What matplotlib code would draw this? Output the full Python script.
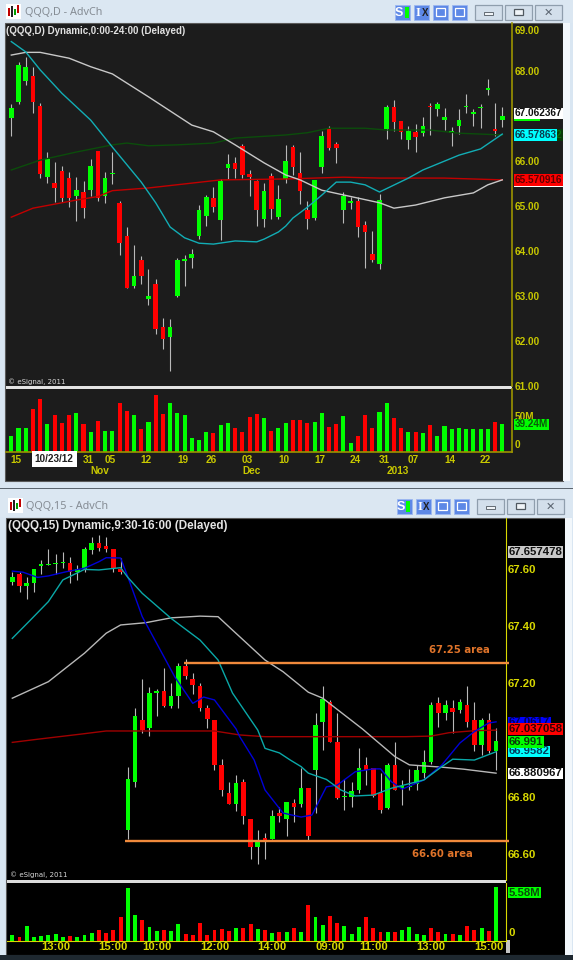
import numpy as np
import matplotlib
matplotlib.use('Agg')
import matplotlib.pyplot as plt
from matplotlib.patches import Rectangle
from matplotlib.transforms import blended_transform_factory

plt.rcParams['font.family'] = ['Liberation Sans', 'DejaVu Sans']

W, H = 573, 960
UP = '#00ff00'
DOWN = '#ff0000'

# daily QQQ candles
d_open = [66.96, 67.32, 67.78, 67.89, 67.23, 65.65, 65.51, 65.78, 65.62, 65.21, 65.32, 65.35, 66.22, 65.21, 65.72,
          65.07, 64.34, 63.22, 63.80, 62.93, 63.27, 62.30, 62.09, 62.99, 63.77, 63.85, 64.34, 64.78, 65.18, 64.69,
          65.85, 65.95, 66.34, 65.71, 65.55, 64.72, 65.67, 64.76, 65.60, 66.31, 65.73, 64.92, 64.74, 65.87, 66.73,
          66.39, 64.90, 65.07, 65.10, 64.58, 63.93, 63.70, 66.71, 67.21, 66.89, 66.47, 66.65, 66.62, 67.23, 67.16,
          66.91, 66.63, 66.77, 67.20, 67.04, 67.17, 67.58, 66.71, 66.91]
d_high = [67.27, 68.21, 68.32, 68.10, 67.30, 66.21, 65.98, 65.89, 65.76, 65.65, 65.55, 66.05, 66.22, 65.76, 66.20,
          65.12, 64.53, 64.13, 63.89, 63.60, 63.37, 62.50, 62.49, 63.84, 63.91, 64.03, 65.02, 65.24, 65.43, 65.59,
          66.16, 66.10, 66.38, 65.80, 65.58, 65.51, 65.73, 65.47, 66.36, 66.36, 66.19, 65.11, 65.57, 66.67, 66.78,
          66.43, 65.30, 65.19, 65.19, 64.66, 64.44, 65.26, 67.25, 67.36, 66.89, 66.78, 66.82, 66.97, 67.30, 67.31,
          67.17, 66.76, 67.16, 67.49, 67.16, 67.26, 67.82, 67.30, 67.21]
d_low = [66.56, 67.27, 67.69, 67.07, 65.63, 65.52, 65.09, 65.09, 64.98, 64.67, 64.74, 65.21, 65.11, 65.07, 65.49,
         63.91, 63.18, 63.18, 63.27, 62.79, 62.15, 61.81, 61.32, 62.97, 63.22, 63.61, 64.26, 64.55, 64.86, 64.24,
         65.60, 65.63, 65.63, 65.22, 64.56, 64.54, 64.72, 64.72, 65.52, 65.69, 65.04, 64.48, 64.69, 65.73, 66.25,
         65.95, 64.63, 64.93, 64.30, 63.61, 63.76, 63.60, 66.49, 66.67, 66.49, 66.27, 66.19, 66.56, 66.58, 67.01,
         66.69, 66.34, 66.60, 67.08, 66.79, 66.74, 67.47, 66.56, 66.75]
d_close = [67.19, 68.14, 68.09, 67.32, 65.71, 66.05, 65.41, 65.18, 65.18, 65.35, 64.96, 65.89, 65.18, 65.62, 65.74,
           64.18, 63.18, 63.44, 63.44, 62.99, 62.25, 62.04, 62.30, 63.80, 63.81, 63.93, 64.92, 65.20, 64.98, 65.55,
           65.93, 65.82, 65.69, 65.64, 64.92, 65.34, 64.93, 65.15, 65.99, 65.86, 65.33, 64.70, 65.57, 66.56, 66.30,
           66.30, 65.23, 65.10, 64.52, 64.43, 63.80, 65.13, 67.21, 66.88, 66.65, 66.67, 66.53, 66.79, 67.20, 67.27,
           66.97, 66.67, 66.91, 67.23, 67.09, 67.20, 67.62, 66.67, 67.01]
d_vol = [22.4, 33.4, 33.4, 61.0, 74.9, 39.1, 52.0, 40.5, 52.9, 54.9, 39.1, 27.7, 43.9, 30.0, 30.0, 70.1, 58.2, 52.0,
         32.4, 42.9, 81.6, 54.4, 70.1, 55.8, 52.0, 19.6, 16.7, 27.7, 26.2, 37.7, 41.5, 33.9, 28.6, 49.1, 54.4, 48.2,
         29.6, 33.9, 40.5, 45.3, 45.3, 40.5, 42.9, 55.8, 35.3, 40.1, 50.6, 11.9, 22.4, 52.9, 33.9, 56.8, 70.1, 48.2,
         33.9, 27.7, 28.6, 26.2, 37.7, 22.4, 36.3, 32.4, 33.9, 32.4, 32.4, 32.4, 32.4, 42.9, 39.24]

# daily moving averages, read at a few bars each
d_white_i = [0, 2, 4, 8, 11, 14, 19, 25, 28, 31, 35, 38, 40, 43, 47, 51, 53, 56, 60, 64, 66, 68]
d_white = [68.36, 68.42, 68.42, 68.29, 68.10, 67.94, 67.43, 66.80, 66.65, 66.36, 65.96, 65.69, 65.58, 65.35, 65.21,
           65.07, 64.95, 65.02, 65.18, 65.29, 65.47, 65.58]
d_cyan_i = [0, 2, 4, 7, 11, 14, 18, 20, 22, 24, 26, 28, 31, 34, 35, 37, 38, 39, 41, 43, 45, 47, 49, 51, 55, 57, 62, 65, 68]
d_cyan = [68.66, 68.43, 68.03, 67.51, 66.91, 66.31, 65.53, 65.07, 64.53, 64.29, 64.17, 64.15, 64.22, 64.20, 64.26,
          64.42, 64.55, 64.73, 64.97, 65.24, 65.53, 65.53, 65.47, 65.31, 65.62, 65.80, 66.13, 66.27, 66.60]
d_green_i = [0, 4, 9, 14, 16, 19, 23, 28, 31, 38, 41, 44, 49, 52, 58, 62, 68]
d_green = [65.80, 66.02, 66.20, 66.36, 66.40, 66.34, 66.36, 66.40, 66.51, 66.58, 66.63, 66.73, 66.73, 66.69, 66.69,
           66.62, 66.58]
d_red_i = [0, 3, 9, 12, 14, 19, 24, 29, 38, 42, 46, 51, 60, 68]
d_red = [64.75, 64.95, 65.13, 65.21, 65.34, 65.40, 65.49, 65.58, 65.60, 65.62, 65.64, 65.62, 65.62, 65.58]

d_price_ticks = [61, 62, 63, 64, 65, 66, 67, 68]
d_date_pos = [1, 11, 14, 19, 24, 28, 33, 38, 43, 48, 52, 56, 61, 66]
d_date_labels = ['15', '31', '05', '12', '19', '26', '03', '10', '17', '24', '31', '07', '14', '22']
d_month_pos = [12.2, 33.2, 53.5]
d_month_labels = ['Nov', 'Dec', '2013']

# 15 minute QQQ candles
m_open = [67.552, 67.580, 67.539, 67.548, 67.610, 67.611, 67.616, 67.619, 67.621, 67.589, 67.598, 67.665, 67.689,
          67.680, 67.668, 67.597, 66.683, 66.852, 67.069, 67.039, 67.162, 67.170, 67.119, 67.153, 67.259, 67.212,
          67.189, 67.110, 67.069, 66.911, 66.811, 66.773, 66.852, 66.721, 66.624, 66.654, 66.651, 66.741, 66.722,
          66.776, 66.773, 66.831, 66.893, 67.060, 67.131, 66.990, 66.798, 66.799, 66.823, 66.911, 66.901, 66.811,
          66.761, 66.911, 66.831, 66.832, 66.843, 66.882, 66.922, 67.129, 67.092, 67.110, 67.104, 67.121, 67.069,
          66.981, 67.069, 66.961]
m_high = [67.589, 67.589, 67.569, 67.598, 67.630, 67.668, 67.650, 67.659, 67.639, 67.612, 67.677, 67.712, 67.718,
          67.710, 67.668, 67.638, 66.903, 67.110, 67.211, 67.185, 67.177, 67.250, 67.199, 67.270, 67.282, 67.235,
          67.199, 67.121, 67.069, 66.931, 66.850, 66.876, 66.860, 66.721, 66.683, 66.671, 66.753, 66.762, 66.781,
          66.791, 66.901, 66.831, 67.092, 67.189, 67.139, 67.093, 66.860, 66.852, 66.969, 66.940, 66.901, 66.882,
          66.919, 66.990, 66.858, 66.897, 66.911, 66.963, 67.131, 67.150, 67.139, 67.139, 67.142, 67.189, 67.131,
          67.076, 67.092, 67.040]
m_low = [67.542, 67.519, 67.492, 67.519, 67.580, 67.611, 67.580, 67.601, 67.548, 67.560, 67.589, 67.650, 67.662,
         67.659, 67.589, 67.580, 66.651, 66.832, 67.023, 67.012, 67.083, 67.115, 67.112, 67.112, 67.212, 67.160,
         67.101, 67.039, 66.893, 66.802, 66.773, 66.749, 66.703, 66.581, 66.563, 66.581, 66.651, 66.711, 66.662,
         66.712, 66.762, 66.647, 66.741, 66.963, 66.990, 66.791, 66.753, 66.762, 66.811, 66.840, 66.799, 66.743,
         66.755, 66.823, 66.770, 66.823, 66.823, 66.864, 66.913, 67.044, 67.069, 67.023, 67.092, 67.043, 66.961,
         66.946, 66.954, 66.893]
m_close = [67.569, 67.540, 67.550, 67.598, 67.615, 67.615, 67.619, 67.623, 67.589, 67.597, 67.668, 67.689, 67.673,
           67.669, 67.601, 67.589, 66.860, 67.083, 67.033, 67.162, 67.171, 67.119, 67.153, 67.259, 67.223, 67.191,
           67.112, 67.071, 66.911, 66.823, 66.773, 66.846, 66.732, 66.624, 66.647, 66.647, 66.732, 66.732, 66.781,
           66.762, 66.831, 66.663, 67.051, 67.141, 66.990, 66.796, 66.803, 66.819, 66.901, 66.893, 66.802, 66.753,
           66.911, 66.823, 66.837, 66.838, 66.893, 66.920, 67.121, 67.092, 67.121, 67.096, 67.131, 67.063, 66.981,
           67.069, 66.961, 66.995]
m_vol = [0.62, 0.34, 1.55, 0.41, 0.52, 0.59, 0.69, 0.41, 0.52, 0.41, 0.62, 0.79, 1.10, 0.79, 1.10, 2.48, 5.48, 2.65,
         2.14, 1.45, 1.00, 1.10, 1.00, 1.72, 0.72, 0.62, 1.83, 0.62, 1.10, 1.17, 1.00, 1.27, 1.27, 1.72, 1.17, 1.10,
         0.79, 0.90, 0.90, 1.27, 0.90, 3.69, 2.48, 1.62, 2.55, 1.83, 1.55, 0.69, 1.45, 2.48, 1.27, 0.90, 0.90, 0.90,
         1.07, 1.38, 0.69, 0.59, 1.27, 0.90, 0.69, 0.69, 0.59, 1.55, 1.10, 1.34, 1.00, 5.58]
m_vol_red_extra = [58]

m_blue_i = [0, 1.5, 3.5, 5, 7.5, 10, 12, 13, 15, 16, 18, 20.5, 22.5, 25, 26.5, 28, 31, 31.5, 33.5, 35, 37.5, 40, 41.5,
            43.5, 45, 47.5, 50, 51, 52.5, 54, 57, 59.5, 62, 64, 66, 67]
m_blue = [67.591, 67.587, 67.569, 67.574, 67.589, 67.601, 67.624, 67.638, 67.637, 67.571, 67.431, 67.314, 67.220,
          67.127, 67.149, 67.139, 67.037, 67.010, 66.928, 66.823, 66.742, 66.728, 66.735, 66.834, 66.840, 66.887,
          66.897, 66.897, 66.852, 66.826, 66.858, 66.911, 66.988, 67.028, 67.058, 67.062]
m_cyan_i = [0, 2.5, 5, 7, 10, 12, 15, 16, 18, 22, 26, 28.5, 30.5, 34, 35, 37, 38.5, 40, 41, 43.5, 45.5, 47.5, 50, 52.5,
            57, 59.5, 61, 64, 67]
m_cyan = [67.355, 67.419, 67.484, 67.560, 67.597, 67.595, 67.603, 67.569, 67.513, 67.425, 67.349, 67.279, 67.163,
          67.033, 66.969, 66.953, 66.928, 66.905, 66.882, 66.860, 66.823, 66.802, 66.805, 66.829, 66.858, 66.905,
          66.931, 66.928, 66.957]
m_white_i = [0, 5, 10, 13, 15, 18.5, 22, 26, 28.5, 30.5, 35, 37.5, 41, 43, 48.5, 53, 55, 59.5, 62.5, 67]
m_white = [67.145, 67.203, 67.303, 67.373, 67.402, 67.410, 67.427, 67.433, 67.431, 67.384, 67.279, 67.238, 67.166,
           67.145, 67.037, 66.940, 66.911, 66.903, 66.896, 66.882]
m_red_i = [0, 3.5, 9.5, 13, 16.5, 28, 31.5, 35, 54.5, 58, 60.5, 64, 67]
m_red = [66.990, 67.001, 67.019, 67.030, 67.030, 67.030, 67.016, 67.010, 67.010, 67.012, 67.024, 67.031, 67.033]

m_price_ticks = [66.6, 66.8, 67.0, 67.2, 67.4, 67.6]
m_time_pos = [6, 14, 20, 28, 36, 44, 50, 58, 66]
m_time_labels = ['13:00', '15:00', '10:00', '12:00', '14:00', '09:00', '11:00', '13:00', '15:00']

# horizontal levels drawn on the 15 minute chart
level_prices = [67.27, 66.645]
level_start = [23.8, 15.6]
level_labels = ['67.25 area', '66.60 area']
level_label_pos = [61.9, 59.5]


def px_axes(fig, x0, y0, x1, y1):
    ax = fig.add_axes([x0 / W, 1 - y1 / H, (x1 - x0) / W, (y1 - y0) / H])
    ax.patch.set_alpha(0)
    return ax


def draw_candles(ax, o, h, l, c, body=0.64, wick_lw=0.8):
    x = np.arange(len(o))
    o, h, l, c = map(np.array, (o, h, l, c))
    up = c >= o
    ax.vlines(x, l, h, color='#b9b9b9', lw=wick_lw, zorder=2)
    ax.bar(x[up], (c - o)[up], bottom=o[up], width=body, color=UP, zorder=3)
    ax.bar(x[~up], (o - c)[~up], bottom=c[~up], width=body, color=DOWN, zorder=3)


def flag(ax, text, y, fc, color='#101010', size=7.2, dy=0, z=10, pad=0.6):
    # value flag sitting on the price axis, centred on its value
    tr = blended_transform_factory(ax.transAxes, ax.transData)
    box = dict(fc=fc, ec='none', pad=pad) if fc else None
    ax.annotate(text, xy=(1, y), xycoords=tr, xytext=(1.6, -dy * 0.72), textcoords='offset points',
                ha='left', va='center', fontsize=size, fontweight='bold', color=color,
                bbox=box, annotation_clip=False, zorder=z)


def window_chrome(bg, top, title, bx):
    # title bar text, app icon, toolbar and caption buttons
    bg.add_patch(Rectangle((6 + bx, top + 4), 15, 15, fc='white', ec='none'))
    for k, (col, y0, h) in enumerate([('#c00000', 8, 8), ('#202020', 6, 11), ('#00a000', 9, 6), ('#c00000', 5, 8)]):
        bg.add_patch(Rectangle((8 + bx + k * 3, top + y0), 2, h, fc=col, ec='none'))
    bg.text(25 + bx, top + 12.5, title, fontsize=7.8, color='#858c94', family='Noto Sans', va='center', ha='left')
    for x0 in [395, 414, 433, 452]:
        bg.add_patch(Rectangle((x0 + bx, top + 5), 15, 14.5, fc='#5d88e6', ec='#9db8f0', lw=0.6))
    bg.text(399 + bx, top + 12.5, 'S', fontsize=9, fontweight='bold', color='white', va='center', ha='center')
    bg.add_patch(Rectangle((404.5 + bx, top + 6.5), 4, 11, fc=UP, ec='none'))
    bg.text(418 + bx, top + 12.5, 'I', fontsize=9, fontweight='bold', family='Liberation Serif', color='white',
            va='center', ha='center')
    bg.text(425 + bx, top + 12.5, 'X', fontsize=7, fontweight='bold', color='#202020', va='center', ha='center')
    for x0 in [436, 455]:
        bg.add_patch(Rectangle((x0 + bx, top + 8), 9, 8, fc='none', ec='white', lw=0.9))
    for x0 in [475, 505, 535]:
        bg.add_patch(Rectangle((x0 + bx, top + 5), 27, 15, fc='#d3dfeb', ec='#8f9ead', lw=0.9))
    bg.add_patch(Rectangle((484 + bx, top + 12), 9, 3, fc='#f0f4f8', ec='#505860', lw=0.6))
    bg.add_patch(Rectangle((514 + bx, top + 9), 9, 6, fc='#f0f4f8', ec='#505860', lw=0.9))
    bg.text(548.5 + bx, top + 12.5, '\u2715', fontsize=8, fontweight='bold', color='#5a6470', family='DejaVu Sans',
            va='center', ha='center')


fig = plt.figure(figsize=(W / 100, H / 100), dpi=100, facecolor='#d9e6f2')

# window background, frames and panel fills in pixel coordinates
bg = fig.add_axes([0, 0, 1, 1], zorder=0)
bg.set_xlim(0, W)
bg.set_ylim(H, 0)
bg.axis('off')
bg.add_patch(Rectangle((0, 0), W, 23, fc='#dbe7f2', ec='none'))
bg.add_patch(Rectangle((5, 23), 558, 458, fc='#1c1c1c', ec='#5a5a5a', lw=0.8))
bg.add_patch(Rectangle((563, 23), 7, 458, fc='#f2f7fb', ec='none'))
bg.add_patch(Rectangle((6, 385.8), 506, 3, fc='#e4e4e4', ec='none'))
bg.add_patch(Rectangle((0, 487.5), W, 1.8, fc='#5c6670', ec='none'))
bg.add_patch(Rectangle((0, 489.3), W, 28, fc='#dbe7f2', ec='none'))
bg.add_patch(Rectangle((6, 518), 559, 437, fc='black', ec='#5a5a5a', lw=0.8))
bg.add_patch(Rectangle((565, 518), 7, 437, fc='#f2f7fb', ec='none'))
bg.add_patch(Rectangle((7, 879.8), 499, 3, fc='#dcdcdc', ec='none'))
bg.add_patch(Rectangle((505.5, 940), 4.5, 13, fc='#c4c4c4', ec='none'))
bg.add_patch(Rectangle((0, 955), W, 5, fc='#1e2830', ec='none'))
window_chrome(bg, 0, 'QQQ,D - AdvCh', 0)
window_chrome(bg, 494, 'QQQ,15 - AdvCh', 1.5)

# daily price panel
d_px = 7.22
d_left, d_right = 6, 512.3
d_xlim = ((d_left - 11.3) / d_px, (d_right - 11.3) / d_px)
ax1 = px_axes(fig, d_left, 23, d_right, 385.8)
ax1.set_xlim(d_xlim)
ax1.set_ylim(69.586 - 0.02227 * 385.8, 69.586 - 0.02227 * 23)
draw_candles(ax1, d_open, d_high, d_low, d_close)
ax1.plot(d_green_i, d_green, color='#0b4d0b', lw=1.0, zorder=4)
ax1.plot(d_red_i, d_red, color='#c20000', lw=1.0, zorder=4)
ax1.plot(d_white_i, d_white, color='#c8c8c8', lw=1.0, zorder=4)
ax1.plot(d_cyan_i, d_cyan, color='#12adb5', lw=1.0, zorder=4)
ax1.set_xticks([])
ax1.yaxis.tick_right()
ax1.set_yticks(d_price_ticks)
ax1.set_yticklabels(['%.2f' % v for v in d_price_ticks], fontweight='bold')
ax1.tick_params(axis='y', length=0, pad=1.5, labelsize=7.2, labelcolor='#c8c800')
for s in ['top', 'left', 'bottom']:
    ax1.spines[s].set_visible(False)
ax1.spines['right'].set_color('#9c9400')
ax1.spines['right'].set_linewidth(1.2)
flag(ax1, '69.00', 69.0, None, color='#c8c800', dy=4.8)
bg.text(6.5, 31, '(QQQ,D) Dynamic,0:00-24:00 (Delayed)', fontsize=7.05, fontweight='bold', color='#e0e0e0',
        va='center', ha='left')
bg.text(8.5, 382, '\u00a9 eSignal, 2011', fontsize=5, color='#d8d8d8', va='center', ha='left', family='DejaVu Sans')
flag(ax1, '67.01', 67.01, UP, z=10)
flag(ax1, '67.062367', 67.062367, '#ffffff', z=11)
flag(ax1, '66.578632', 66.57863, '#0a3a0a', color='#0b6b0b', z=10)
flag(ax1, '66.57863', 66.57863, '#00ffff', color='#0a3c50', z=11)
flag(ax1, '65.570916', 65.54, '#ffffff', color='#ffffff', z=10)
flag(ax1, '65.570916', 65.570916, '#ff0000', color='#600000', z=11)

# daily volume panel
ax2 = px_axes(fig, d_left, 388.8, d_right, 451.7)
ax2.set_xlim(d_xlim)
ax2.set_ylim(0, 62.9 / 0.698)
d_vol_col = [UP if c >= o else DOWN for o, c in zip(d_open, d_close)]
ax2.bar(np.arange(len(d_vol)), d_vol, width=0.56, color=d_vol_col)
ax2.yaxis.tick_right()
ax2.set_yticks([])
ax2.set_xticks(np.array(d_date_pos) - 0.3)
ax2.set_xticklabels(d_date_labels, fontweight='bold')
ax2.tick_params(axis='x', length=0, pad=2.2, labelsize=7.2, labelcolor='#c8c800')
for s in ['top', 'left']:
    ax2.spines[s].set_visible(False)
for s in ['right', 'bottom']:
    ax2.spines[s].set_color('#9c9400')
    ax2.spines[s].set_linewidth(1.2)
for pos, lab in zip(d_month_pos, d_month_labels):
    ax2.annotate(lab, xy=(pos, 0), xytext=(0, -19.8 * 0.72), textcoords='offset points', fontsize=7.2,
                 fontweight='bold', color='#c8c800', ha='center', va='center', annotation_clip=False)
ax2.annotate('10/23/12', xy=(5.94, 0), xycoords='data', xytext=(0, -7.6 * 0.72), textcoords='offset points', ha='center',
             va='center', fontsize=7.2, fontweight='bold', color='#202020', annotation_clip=False, zorder=10,
             bbox=dict(fc='white', ec='none', boxstyle='square,pad=0.32'))
flag(ax2, '50M', 50, None, color='#c8c800', z=5)
flag(ax2, '0', 0, None, color='#c8c800', dy=-6.5, z=5)
flag(ax2, '39.24M', 39.24, UP, color='#0a5a0a', z=10)

# 15 minute price panel
m_px = 7.22
m_left, m_right = 7, 506.3
m_xlim = ((m_left - 12.3) / m_px, (m_right - 12.3) / m_px)
ax3 = px_axes(fig, m_left, 518, m_right, 879.8)
ax3.set_xlim(m_xlim)
ax3.set_ylim(69.595 - 0.003509 * 879.8, 69.595 - 0.003509 * 518)
draw_candles(ax3, m_open, m_high, m_low, m_close)
ax3.plot(m_red_i, m_red, color='#a00000', lw=1.0, zorder=4)
ax3.plot(m_white_i, m_white, color='#b8b8b8', lw=1.0, zorder=4)
ax3.plot(m_blue_i, m_blue, color='#0000d8', lw=1.0, zorder=4)
ax3.plot(m_cyan_i, m_cyan, color='#0aa8a8', lw=1.0, zorder=4)
for p, st, lab, lx in zip(level_prices, level_start, level_labels, level_label_pos):
    ax3.plot([st, 68.8], [p, p], color='#f08a3c', lw=1.7, clip_on=False, solid_capstyle='butt', zorder=5)
    ax3.annotate(lab, xy=(lx, p), xytext=(0, 8.7 if p > 67 else -9.3), textcoords='offset points', ha='center',
                 va='center', fontsize=7.3, fontweight='bold', color='#e0742a', family='DejaVu Sans')
ax3.set_xticks([])
ax3.yaxis.tick_right()
ax3.set_yticks(m_price_ticks)
ax3.set_yticklabels(['%.2f' % v for v in m_price_ticks], fontweight='bold')
ax3.tick_params(axis='y', length=0, pad=1.2, labelsize=8.2, labelcolor='#d8d800')
for s in ['top', 'left', 'bottom']:
    ax3.spines[s].set_visible(False)
ax3.spines['right'].set_color('#d8d800')
ax3.spines['right'].set_linewidth(0.8)
bg.text(7.5, 525.5, '(QQQ,15) Dynamic,9:30-16:00 (Delayed)', fontsize=8.35, fontweight='bold', color='#e4e4e4',
        va='center', ha='left')
bg.text(9.5, 875, '\u00a9 eSignal, 2011', fontsize=5, color='#d8d8d8', va='center', ha='left', family='DejaVu Sans')
flag(ax3, '67.657478', 67.657478, '#c8c8c8', size=8.2, z=10)
flag(ax3, '67.0617', 67.06, '#0000ff', color='#000050', size=8.2, z=10)
flag(ax3, '67.037058', 67.037058, '#ff0000', color='#300000', size=8.2, z=11)
flag(ax3, '66.9582', 66.9582, '#00ffff', color='#004060', size=8.2, z=10)
flag(ax3, '66.991', 66.991, UP, color='#0a3a0a', size=8.2, z=11)
flag(ax3, '66.880967', 66.880967, '#ffffff', size=8.2, z=11)

# 15 minute volume panel
ax4 = px_axes(fig, m_left, 882.8, m_right, 940.7)
ax4.set_xlim(m_xlim)
ax4.set_ylim(0, 57.9 / 9.68)
m_vol_col = [UP if c >= o else DOWN for o, c in zip(m_open, m_close)]
for i in m_vol_red_extra:
    m_vol_col[i] = DOWN
ax4.bar(np.arange(len(m_vol)), m_vol, width=0.54, color=m_vol_col)
ax4.set_yticks([])
ax4.set_xticks(m_time_pos)
ax4.set_xticklabels(m_time_labels, fontweight='bold')
ax4.tick_params(axis='x', length=0, pad=1.0, labelsize=8.1, labelcolor='#d8d800')
for s in ['top', 'left']:
    ax4.spines[s].set_visible(False)
for s in ['right', 'bottom']:
    ax4.spines[s].set_color('#d8d800')
    ax4.spines[s].set_linewidth(0.8)
flag(ax4, '0', 0, None, color='#d8d800', size=8.2, dy=-7.5, z=5)
flag(ax4, '5.58M', 5.58, UP, color='#0a4a0a', size=8.2, dy=6, z=10)

fig.savefig('out.png', dpi=100, facecolor=fig.get_facecolor())
